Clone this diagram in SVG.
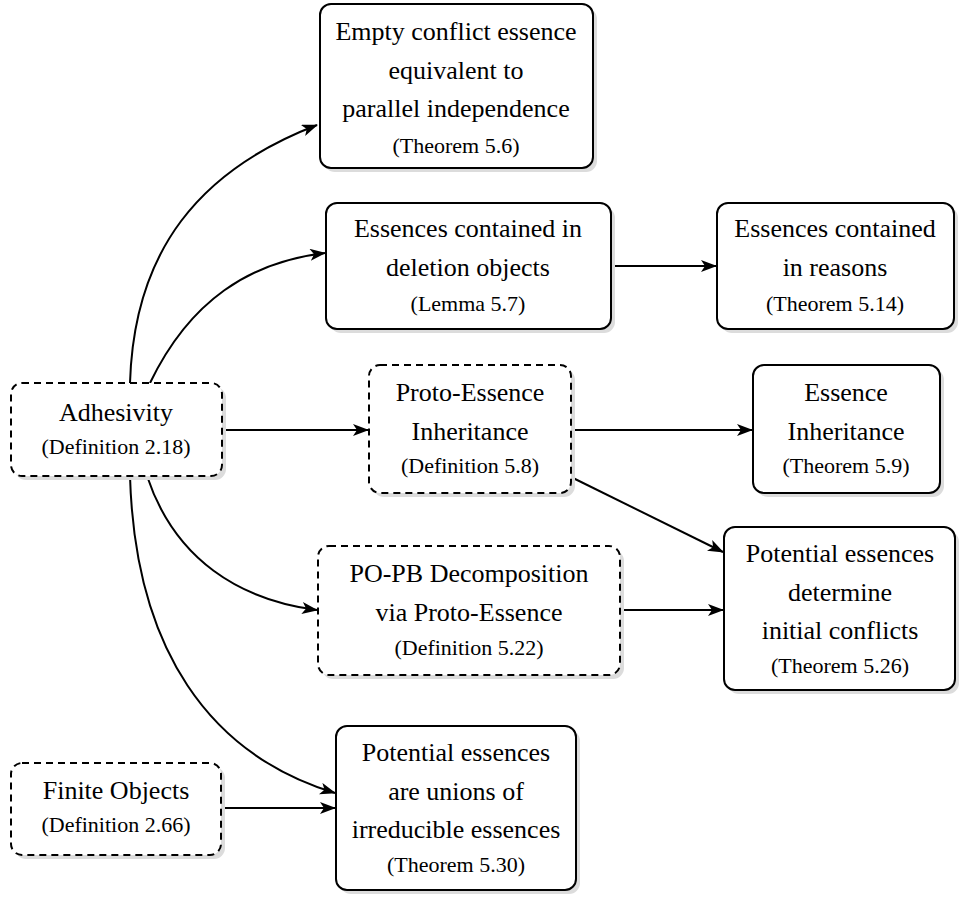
<svg xmlns="http://www.w3.org/2000/svg" width="969" height="898" viewBox="0 0 969 898">
  <defs>
    <marker id="arrow" viewBox="0 0 16 12" refX="15" refY="6" markerWidth="16" markerHeight="12" markerUnits="userSpaceOnUse" orient="auto">
      <path d="M0,0 L16,6 L0,12 L4,6 Z" fill="#000"/>
    </marker>
  </defs>
  <style>
    .shadow { fill: #dcdcdc; stroke: none; }
    .box { fill: #fff; stroke: #000; stroke-width: 2; }
    .dashed { stroke-dasharray: 7 5; }
    .lbl { font-family: 'Liberation Serif', 'Times New Roman', serif; }
    .lbl text { fill: #000; text-anchor: middle; }
    .t { font-size: 26px; }
    .r { font-size: 22px; }
    .edge { fill: none; stroke: #000; stroke-width: 2; marker-end: url(#arrow); }
  </style>
  <rect width="969" height="898" fill="#fff"/>

  <!-- connectors -->
  <g id="edges">
    <path class="edge" d="M130,383 C134,250 200,170 317,125"/>
    <path class="edge" d="M150,383 C190,300 250,262 325,253"/>
    <path class="edge" d="M222,430 L368,430"/>
    <path class="edge" d="M147,476 C175,560 240,600 317,610"/>
    <path class="edge" d="M130,476 C135,650 210,755 335,793"/>
    <path class="edge" d="M221,808 L335,808"/>
    <path class="edge" d="M611,266 L716,266"/>
    <path class="edge" d="M571,430 L752,430"/>
    <path class="edge" d="M571,477 L723,552"/>
    <path class="edge" d="M620,610 L723,610"/>
  </g>

  <g id="empty-conflict" class="lbl">
    <rect class="shadow" x="324" y="8" width="273" height="164" rx="11"/>
    <rect class="box" x="320" y="4" width="273" height="164" rx="11"/>
    <text class="t" x="456" y="40">Empty conflict essence</text>
    <text class="t" x="456" y="79">equivalent to</text>
    <text class="t" x="456" y="117">parallel independence</text>
    <text class="r" x="456" y="153">(Theorem 5.6)</text>
  </g>

  <g id="deletion-objects" class="lbl">
    <rect class="shadow" x="330" y="207" width="285" height="126" rx="11"/>
    <rect class="box" x="326" y="203" width="285" height="126" rx="11"/>
    <text class="t" x="468" y="237">Essences contained in</text>
    <text class="t" x="468" y="276">deletion objects</text>
    <text class="r" x="468" y="311">(Lemma 5.7)</text>
  </g>

  <g id="reasons" class="lbl">
    <rect class="shadow" x="721" y="207" width="237" height="126" rx="11"/>
    <rect class="box" x="717" y="203" width="237" height="126" rx="11"/>
    <text class="t" x="835" y="237">Essences contained</text>
    <text class="t" x="835" y="276">in reasons</text>
    <text class="r" x="835" y="311">(Theorem 5.14)</text>
  </g>

  <g id="adhesivity" class="lbl">
    <rect class="shadow" x="15" y="387" width="211" height="93" rx="11"/>
    <rect class="box dashed" x="11" y="383" width="211" height="93" rx="11"/>
    <text class="t" x="116" y="421">Adhesivity</text>
    <text class="r" x="116" y="454">(Definition 2.18)</text>
  </g>

  <g id="proto-essence" class="lbl">
    <rect class="shadow" x="373" y="369" width="202" height="128" rx="11"/>
    <rect class="box dashed" x="369" y="365" width="202" height="128" rx="11"/>
    <text class="t" x="470" y="401">Proto-Essence</text>
    <text class="t" x="470" y="440">Inheritance</text>
    <text class="r" x="470" y="473">(Definition 5.8)</text>
  </g>

  <g id="essence-inheritance" class="lbl">
    <rect class="shadow" x="757" y="369" width="187" height="128" rx="11"/>
    <rect class="box" x="753" y="365" width="187" height="128" rx="11"/>
    <text class="t" x="846" y="401">Essence</text>
    <text class="t" x="846" y="440">Inheritance</text>
    <text class="r" x="846" y="473">(Theorem 5.9)</text>
  </g>

  <g id="po-pb" class="lbl">
    <rect class="shadow" x="322" y="550" width="302" height="129" rx="11"/>
    <rect class="box dashed" x="318" y="546" width="302" height="129" rx="11"/>
    <text class="t" x="469" y="582">PO-PB Decomposition</text>
    <text class="t" x="469" y="621">via Proto-Essence</text>
    <text class="r" x="469" y="655">(Definition 5.22)</text>
  </g>

  <g id="initial-conflicts" class="lbl">
    <rect class="shadow" x="728" y="531" width="231" height="163" rx="11"/>
    <rect class="box" x="724" y="527" width="231" height="163" rx="11"/>
    <text class="t" x="840" y="562">Potential essences</text>
    <text class="t" x="840" y="601">determine</text>
    <text class="t" x="840" y="639">initial conflicts</text>
    <text class="r" x="840" y="673">(Theorem 5.26)</text>
  </g>

  <g id="finite-objects" class="lbl">
    <rect class="shadow" x="15" y="767" width="210" height="92" rx="11"/>
    <rect class="box dashed" x="11" y="763" width="210" height="92" rx="11"/>
    <text class="t" x="116" y="799">Finite Objects</text>
    <text class="r" x="116" y="832">(Definition 2.66)</text>
  </g>

  <g id="irreducible-unions" class="lbl">
    <rect class="shadow" x="340" y="730" width="240" height="164" rx="11"/>
    <rect class="box" x="336" y="726" width="240" height="164" rx="11"/>
    <text class="t" x="456" y="761">Potential essences</text>
    <text class="t" x="456" y="800">are unions of</text>
    <text class="t" x="456" y="838">irreducible essences</text>
    <text class="r" x="456" y="872">(Theorem 5.30)</text>
  </g>
</svg>
